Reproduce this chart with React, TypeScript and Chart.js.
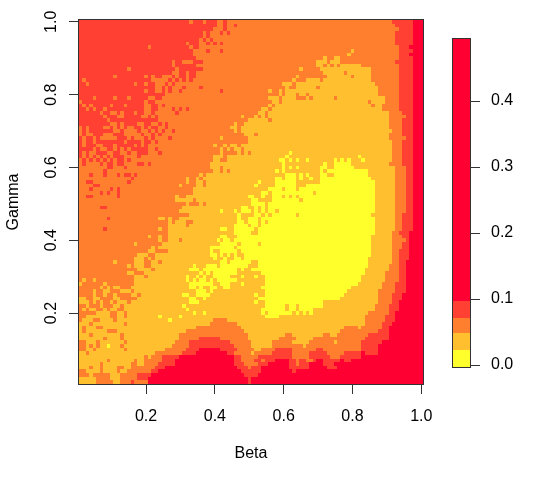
import React, { useEffect, useRef } from "react";
import { Chart, registerables } from "chart.js";

Chart.register(...registerables);

// Each row (gamma from 1.00 down to 0.01): level letter + column where that level ends.
const rows: string[] = [
  "d32c33d36c37d40c42d43c91d97e",
  "d40c42d43c45d46c92d97e",
  "d39c42d43c93d97e",
  "d36c37d38c41d42c43d44c92d97e",
  "d36c37d38c92d97e",
  "d35c36d37c38d39c92d97e",
  "d31c32d35c37d38c39d40c41d42c92d93c93d97e",
  "d20c21d32c33d35c93d96e",
  "d33c37d38c41d42c79b80c93d97e",
  "d33c34d34c78b79c93d96e",
  "d34c71b72c74b76c93d97e",
  "d27c28d30c33d36c69b72c73b76c92d97e",
  "d27c28d34c69b71c72b73c74b75c76b82c93d97e",
  "d14c15d28c29d36c64b65c70b85c93d97e",
  "d27c29d31c32d34c71b77c78b85c93d97e",
  "d10c11d19c20d21c22d24c27d28c29d31c32d34c63b64c72b79c80b85c93d97e",
  "d1c2d21c26d27c28d29c30d31c32d33c62b63c66b70c71b85c93d97e",
  "d2c3d16c17d19c20d22c25d26c27d28c59b62c63b86c93d97e",
  "d22c24d25c26d27c30d31c35d36c60b61c63b69c70b87c93d97e",
  "d19c20d22c24d25c26d27c29d30c41d42c55b56c58b59c60b87c93d97e",
  "d25c58b59c60b63c64b66c67b87c93d97e",
  "d4c5d10c11d14c15d20c22d24c55b58c59b63c66b67c68b74c75b89c93d97e",
  "c1d19c20d22c56b58c59b84c85b89c93d97e",
  "d1c2d3c4d9c10d13c14d19c21d23c24d25c55b56c57b85c86b88c93d97e",
  "d2c3d4c5d7c8d19c21d23c27d28c29d30c31d32c53b55c56b88c93d97e",
  "d6c7d9c11d12c13d16c17d19c21d22c28d29c52b54c55b90c94d97e",
  "d7c8d11c13d18c20d21c22d23c47b48c51b52c53b54c55b90c95d97e",
  "d8c9d23c49b55c56b90c94d97e",
  "d9c11d12c13d17c19d21c23d24c25d26c45b46c48b90c94d97e",
  "c1d2c3d7c9d10c11d12c13d14c16d18c19d20c21d23c25d26c44b46c47b90c94d97e",
  "c1d2c3d10c12d13c17d18c20d21c22d23c24d25c27d28c45b46c47b91c94d97e",
  "c1d2c4d7c10d13c18d19c21d22c23d24c48b51c52b90c94d97e",
  "d1c2d4c5d6c11d14c15d16c19d20c21d22c26d27c41b42c49b90c95d97e",
  "d1c2d4c5d13c14d18c19d21c22d23c49b91c94d95c95d97e",
  "d1c2d5c7d10c11d16c17d18c19d20c23c39b40c42b43c44b46c47b91c94d97e",
  "d4c5d6c8d10c11d12c13d14c15d20c22d23c24c41b42c43b44c45b47c48b91c94d97e",
  "d1c2d3c5d8c10d12c14d15c17d20c23d24c41b42c46b47c48b49c50b61a62b91c94d97e",
  "d1c2d3c4d5c6d7c8d9c10d13c17d18c39b42c43b60a61b81a82b91c94d97e",
  "c1d2c3d4c5d6c7d8c9d10c11d13c14d15c39b41c43b58a60b61a62b63a64b66a67b74a75b76a77b78a79b82a83b91c94d97e",
  "c1d2c6d7c8d10c11d13c17d18c18d19c20d21c38b59a60b71a72b74a79b90c91b91c94d97e",
  "c8d10c13d14c38b41c42b59a60b61a62b63a64b70a72b74a80b92c95d97e",
  "c7d8c39b41c42b43c44b57a58b59a60b70a71b72a84b92c95d97e",
  "c3d4c7d8c11d12c13d15c16d17c35b36c37b60a63b64a65b66a67b70a72b74a84b92c95d97e",
  "c15d16c31b32c34b35c36b57a59b60a63b64a65b67a68b70a85b92c95d97e",
  "c2d4c14d15c31b32c34b36c37b52a53b57a63b70a86b92c95d97e",
  "c4d6c29b30c34b36c37b51a52b57a63b66a86b92c95d97e",
  "c3d4c9d10c11d12c33b55a59b60a63b64a86b92c95d97e",
  "c6d7c8d9c11d12c33b53a55b56a68b69a86b92c95d97e",
  "c2d4c11d12c28b29c31b49a51b53a54b56a59b60a61b62a63b64a86b92c95d97e",
  "c28b29c29b33c34b50a52b56a64b65a86b92c95d97e",
  "c31b32c35b36c37b50a54b55a86b92c95d97e",
  "c6d8c30b47a49b51a52b53a54b55a86b92c95d97e",
  "c29b41a42b45a46b47a50b51a52b53a54b55a57b58a86b92c95d97e",
  "c32b46a47b51a53b54a55b56a63b64a85b92c94d97e",
  "c8d9c23b25c26b27c29b46a47b49a52b53a86b92c94d97e",
  "c26b27c28b31c33b46a48b49a52b53a54b55a86b92c94d97e",
  "c26b31c32b45a49b50a52b53a86b92c94d97e",
  "c7d8c23b24c26b41a43b45a51b52a86b92c94d97e",
  "c26b45a50b52a86b91c93d96e",
  "c20b21c23b24c26b41a43b46a85b91c94d96e",
  "c23b24c26b29c30b40a41b42a44b45a85b91c95d96e",
  "c16b17c24b41a46b47a52b53a85b91c94d96e",
  "c21b22c23b38a45b46a85b91c94d96e",
  "c20b22c26b38a39b41a46b47a85b91c93d96e",
  "c17b20c22b38a40b41a42b43a44b45a46b48a85b91c93d96e",
  "c16b19c20b21c22b39a40b42a43b45a47b48a84b91c93d96e",
  "c10b11c16b19c21b23c24b41a43b44a50b52a84b91c93d95e",
  "c14b15c16b19c21b33a34b37a40b41a49b52a84b90c93d95e",
  "c17b21c22b32a35b36a46b47a48b50a83b90c93d95e",
  "c14b16c19b35a36b37a38b39a46b53a83b89c93d95e",
  "c16b19c20b31a32b34a35b36a37b39a44b47a48b51a52b54a82b89c93d95e",
  "c1b2c4b5c16b31a32b33a34b35a37b38a39b40a46b54a82b89c93d95e",
  "b1c7b8c16b32a39b41a44b47a48b54a81b88c92d95e",
  "c6b7c8b9c10b12c15b32a34b35a36b38a40b42a44b53a79b88c92d95e",
  "c4b5c7b9c12b15c16b34a37b38a39b54a78b87c92d95e",
  "c4b5c7b8c10b11c15b17c18b30a32b34a38b51a52b54a77b87c91d94e",
  "b2c4b6c10b12c17b32a34b36a37b52a76b87c91d94e",
  "b3c4b5c6b7c9b10c11b14c15b32a35b51a52b54a71b87c91d93e",
  "c2b3c6b7c10b12c13b30a31b54a60b61a63b64a71b86c90d93e",
  "c1b2c3b5c7b8c9b11c13b31a32b53a60b61a63b64a68b86c90d93e",
  "c5b9c11b13c14b33a34b36a37b53a54b55a62b63a64b65a66b67a68b84c90d92e",
  "c2b9c11b13c14b23a24b29a30b54a58b83c89d92e",
  "c1b4c6b10c11b26a27b39c43b83c89d92e",
  "b3c4b13c14b38c46b83c88d91e",
  "b1c2b5c7b34c47b77c81b82c88d90e",
  "b1c2b8c11b31c48b76c87d90e",
  "b3c4b12c13b29c49b60c62b71c73b75c84d90e",
  "b7c8b12c13b29c35d41c49b58c63b68c83d90e",
  "c2b5c6b13c14b28c32d44c50b56c62b67c74b75c82d88e",
  "c2b3c4b5c6b8a9b12c13b27c32d45c50b56c65b66c82d87e",
  "c2b4c5b13c14b25c31d35e41d46c51b53c57d62c69d71c82d87e",
  "b2c3b22c30d34e43d45c50b51c56d62c67d72c77d82e83d87e",
  "b19c20b21c24d29e45d47c52d62c67d73c76d82e",
  "b8c9b16c17b19c24d28e45d47c51d53c54d57e61d63c64d66c68d69e71d76e77d79e",
  "b6c7b15c17b19c23d28e45d48c52d55e61d63c64d67e71d74e",
  "b3c4b6c7b11c13b15c22d25e46d49c50d53e61d67e72d75e",
  "c2b6c7b11c12b14c21d23e47d53e62d63e",
  "c3b4c9b12c17d21e48d52e",
  "b5c9b12c17d20e49d50e",
  "b5c10b12c15d16c20e49d50e",
];

const levelColors = ["#FFFF2B", "#FFBF2E", "#FF7F2E", "#FF4033", "#FF0033"];
const xTicks = [0.2, 0.4, 0.6, 0.8, 1.0];
const yTicks = [0.2, 0.4, 0.6, 0.8, 1.0];
const legendTicks = [0.0, 0.1, 0.2, 0.3, 0.4];
const legendBreaks = [-0.003, 0.023, 0.048, 0.072, 0.097, 0.494];

const FONT = { family: "'Liberation Sans', Arial, sans-serif", size: 16 };
const TICK_COLOR = "#333";
const CELL = 0.01;
const ORIGIN = 0.005;

type Run = { from: number; to: number; level: number };

function decode(row: string): Run[] {
  const out: Run[] = [];
  let col = 0;
  for (const m of row.matchAll(/([a-e])(\d*)/g)) {
    const end = m[2] === "" ? 100 : Number(m[2]);
    if (end > col) {
      out.push({ from: col, to: end, level: m[1].charCodeAt(0) - 97 });
      col = end;
    }
  }
  return out;
}

// Bars abut exactly: draw them snapped to device pixels so no seams show.
const snapBars = {
  id: "snapBars",
  afterDatasetsUpdate(chart: any) {
    chart.getSortedVisibleDatasetMetas().forEach((meta: any) => {
      meta.data.forEach((el: any) => {
        el.draw = function (ctx: CanvasRenderingContext2D) {
          const horizontal = this.horizontal;
          const x0 = horizontal ? Math.min(this.base, this.x) : this.x - this.width / 2;
          const x1 = horizontal ? Math.max(this.base, this.x) : this.x + this.width / 2;
          const y0 = horizontal ? this.y - this.height / 2 : Math.min(this.base, this.y);
          const y1 = horizontal ? this.y + this.height / 2 : Math.max(this.base, this.y);
          ctx.fillStyle = this.options.backgroundColor;
          const l = Math.round(x0), t = Math.round(y0);
          ctx.fillRect(l, t, Math.round(x1) - l, Math.round(y1) - t);
        };
      });
    });
  },
};

const boxPlugin = {
  id: "box",
  afterDatasetsDraw(chart: any) {
    const { left, right, top, bottom } = chart.chartArea;
    const ctx = chart.ctx;
    ctx.save();
    ctx.strokeStyle = TICK_COLOR;
    ctx.lineWidth = 1;
    ctx.strokeRect(Math.round(left) - 0.5, Math.round(top) - 0.5, Math.round(right - left) + 1, Math.round(bottom - top) + 1);
    ctx.restore();
  },
};

export default function App() {
  const mainRef = useRef<HTMLCanvasElement>(null);
  const legendRef = useRef<HTMLCanvasElement>(null);

  useEffect(() => {
    const decoded = rows.map(decode);
    const maxRuns = Math.max(...decoded.map((r) => r.length));
    const labels = rows.map((_, i) => (1 - i * CELL).toFixed(2));
    const datasets = Array.from({ length: maxRuns }, (_, k) => ({
      data: decoded.map((r) =>
        r[k] ? [ORIGIN + r[k].from * CELL, ORIGIN + r[k].to * CELL] : null
      ),
      backgroundColor: decoded.map((r) => (r[k] ? levelColors[r[k].level] : "transparent")),
      borderWidth: 0,
      barPercentage: 1,
      categoryPercentage: 1,
      grouped: false,
      xAxisID: "x",
      yAxisID: "y",
    }));

    const main = new Chart(mainRef.current!, {
      type: "bar",
      data: { labels, datasets: datasets as any },
      plugins: [snapBars, boxPlugin],
      options: {
        indexAxis: "y",
        responsive: false,
        animation: false,
        layout: { padding: { top: 20, right: 120, left: 0, bottom: 0 } },
        plugins: { legend: { display: false }, tooltip: { enabled: false } },
        scales: {
          y: { type: "category", display: false, offset: true },
          x: {
            type: "linear",
            position: "bottom",
            min: ORIGIN,
            max: 1 + ORIGIN,
            afterBuildTicks: (s: any) => { s.ticks = xTicks.map((value) => ({ value })); },
            afterFit: (s: any) => { s.height = 97; },
            grid: { drawOnChartArea: false, tickLength: 10, tickColor: TICK_COLOR, tickWidth: 1 },
            border: { display: false },
            ticks: {
              color: "#000", font: FONT, padding: 13, maxRotation: 0, autoSkip: false,
              callback: (v: any) => Number(v).toFixed(1),
            },
            title: { display: true, text: "Beta", color: "#000", font: FONT, padding: { top: 0, bottom: 18 } },
          },
          gamma: {
            type: "linear",
            axis: "y",
            position: "left",
            offset: false,
            min: ORIGIN,
            max: 1 + ORIGIN,
            afterBuildTicks: (s: any) => { s.ticks = yTicks.map((value) => ({ value })); },
            afterFit: (s: any) => { s.width = 79; },
            grid: { offset: false, drawOnChartArea: false, tickLength: 10, tickColor: TICK_COLOR, tickWidth: 1 },
            border: { display: false },
            ticks: {
              color: "#000", font: FONT, padding: 6, minRotation: 90, maxRotation: 90,
              crossAlign: "center", autoSkip: false,
              callback: (v: any) => Number(v).toFixed(1),
            },
            title: { display: true, text: "Gamma", color: "#000", font: FONT, padding: { top: 4, bottom: 0 } },
          },
        } as any,
      },
    } as any);

    const legendSets = levelColors.map((color, i) => ({
      data: [[legendBreaks[i], legendBreaks[i + 1]]],
      backgroundColor: color,
      borderWidth: 0,
      barPercentage: 1,
      categoryPercentage: 1,
      grouped: false,
    }));

    const legend = new Chart(legendRef.current!, {
      type: "bar",
      data: { labels: ["z"], datasets: legendSets as any },
      plugins: [snapBars, boxPlugin],
      options: {
        responsive: false,
        animation: false,
        layout: { padding: { top: 39, left: 23, right: 0, bottom: 114 } },
        plugins: { legend: { display: false }, tooltip: { enabled: false } },
        scales: {
          x: { type: "category", display: false },
          y: {
            type: "linear",
            position: "right",
            min: legendBreaks[0],
            max: legendBreaks[legendBreaks.length - 1],
            afterBuildTicks: (s: any) => { s.ticks = legendTicks.map((value) => ({ value })); },
            afterFit: (s: any) => { s.width = 73; },
            grid: { drawOnChartArea: false, tickLength: 10, tickColor: TICK_COLOR, tickWidth: 1 },
            border: { display: false },
            ticks: {
              color: "#000", font: FONT, padding: 11, autoSkip: false,
              callback: (v: any) => Number(v).toFixed(1),
            },
          },
        } as any,
      },
    } as any);

    return () => {
      main.destroy();
      legend.destroy();
    };
  }, []);

  return (
    <div style={{ position: "absolute", left: 0, top: 0, width: 543, height: 481, background: "#fff" }}>
      <canvas ref={mainRef} width={543} height={481} style={{ position: "absolute", left: 0, top: 0 }} />
      <canvas ref={legendRef} width={113} height={481} style={{ position: "absolute", left: 430, top: 0 }} />
    </div>
  );
}
